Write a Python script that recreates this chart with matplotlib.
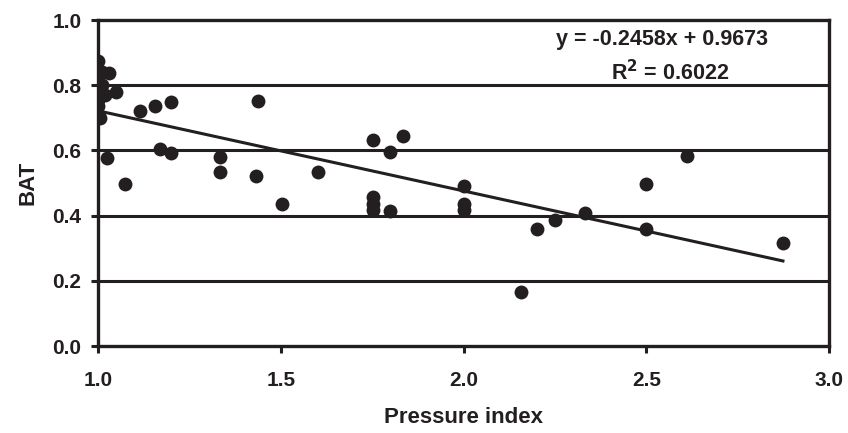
import matplotlib.pyplot as plt
import numpy as np

plt.rcParams['font.family'] = ['Liberation Sans', 'DejaVu Sans']
plt.rcParams['font.weight'] = 'bold'

ink = '#231f20'

# pressure index vs BAT
pressure = [1.0, 1.01, 1.03, 1.0, 1.0, 1.02, 1.05, 1.0, 1.0, 1.005, 1.01,
            1.024, 1.074, 1.116, 1.156, 1.201, 1.169, 1.201,
            1.334, 1.334, 1.431, 1.439, 1.502, 1.601,
            1.751, 1.751, 1.751, 1.751, 1.80, 1.80, 1.834,
            2.0, 2.0, 2.0, 2.156, 2.202, 2.251, 2.333,
            2.5, 2.5, 2.612, 2.874]
bat = [0.874, 0.84, 0.837, 0.821, 0.781, 0.771, 0.778, 0.756, 0.736, 0.698, 0.80,
       0.576, 0.497, 0.722, 0.737, 0.748, 0.603, 0.591,
       0.581, 0.535, 0.523, 0.751, 0.437, 0.533,
       0.631, 0.457, 0.437, 0.418, 0.596, 0.413, 0.644,
       0.491, 0.437, 0.418, 0.167, 0.359, 0.386, 0.407,
       0.496, 0.358, 0.584, 0.316]

slope = -0.2458
intercept = 0.9673
r2 = 0.6022

fig = plt.figure(figsize=(8.48, 4.33), dpi=100)
ax = fig.add_axes([0.1156, 0.2009, 0.8620, 0.7529])

for yv in [0.2, 0.4, 0.6, 0.8]:
    ax.axhline(yv, color=ink, lw=2.2, zorder=1)

ax.scatter(pressure, bat, s=100, color=ink, zorder=3, linewidths=0)

xl = np.array([min(pressure), max(pressure)])
ax.plot(xl, slope * xl + intercept, color=ink, lw=2.2, zorder=2)

ax.set_xlim(1.0, 3.0)
ax.set_ylim(0.0, 1.0)
ax.set_xticks(np.arange(1.0, 3.01, 0.5))
ax.set_yticks(np.arange(0.0, 1.01, 0.2))
ax.xaxis.set_major_formatter(plt.FormatStrFormatter('%.1f'))
ax.yaxis.set_major_formatter(plt.FormatStrFormatter('%.1f'))

for s in ax.spines.values():
    s.set_linewidth(2.4)
    s.set_color(ink)
ax.tick_params(axis='both', direction='out', length=5, width=2.2, color=ink,
               labelsize=15, labelcolor=ink)
ax.tick_params(axis='x', pad=13)
ax.tick_params(axis='y', pad=7)

ax.set_xlabel('Pressure index', fontsize=16, fontweight='bold', color=ink, labelpad=12)
ax.set_ylabel('BAT', fontsize=16, fontweight='bold', color=ink, labelpad=10)

ax.text(0.772, 0.939, f'y = {slope}x + {intercept}', transform=ax.transAxes,
        ha='center', va='center', fontsize=15.5, fontweight='bold', color=ink)
ax.text(0.782, 0.84, f'R$^2$ = {r2}', transform=ax.transAxes,
        ha='center', va='center', fontsize=15.5, fontweight='bold', color=ink)

fig.savefig('out.png', dpi=100)
